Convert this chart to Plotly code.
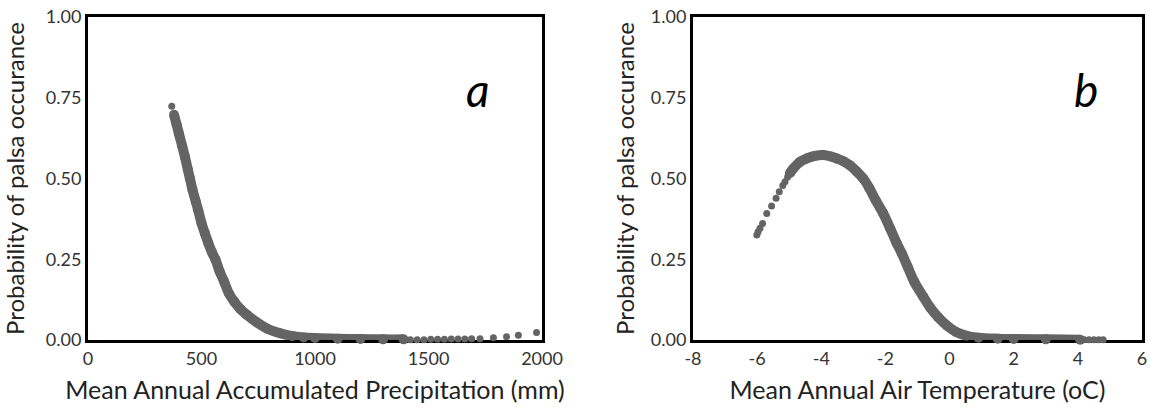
import plotly.graph_objects as go

# ---------------- Panel a: precipitation ----------------
precip_band_x = [379, 390, 400, 415, 427, 440, 449, 460, 475, 486, 500, 515, 530, 545, 562,
                 580, 600, 621, 645, 670, 700, 743, 790, 846, 900, 950, 1000, 1100, 1200,
                 1300, 1390]
precip_band_y = [0.697, 0.668, 0.640, 0.600, 0.567, 0.527, 0.500, 0.466, 0.428, 0.400, 0.362,
                 0.330, 0.300, 0.273, 0.248, 0.212, 0.180, 0.144, 0.118, 0.097, 0.078, 0.055,
                 0.035, 0.021, 0.012, 0.008, 0.006, 0.004, 0.003, 0.002, 0.002]
precip_dots_x = [369, 1420, 1450, 1480, 1510, 1540, 1570, 1600, 1630, 1660, 1690, 1727,
                 1786, 1844, 1896, 1976]
precip_dots_y = [0.724, 0.001, 0.001, 0.001, 0.002, 0.002, 0.002, 0.003, 0.003, 0.003,
                 0.004, 0.004, 0.007, 0.010, 0.015, 0.023]

# ---------------- Panel b: temperature ----------------
temp_band_x = [-4.98, -4.87, -4.66, -4.45, -4.2, -3.94, -3.7, -3.52, -3.3, -3.1, -2.9, -2.69,
               -2.5, -2.3, -2.07, -1.85, -1.65, -1.49, -1.3, -1.1, -0.82, -0.6, -0.35, -0.09,
               0.2, 0.53, 0.9, 1.5, 2.0, 3.0, 4.07]
temp_band_y = [0.516, 0.531, 0.552, 0.562, 0.570, 0.573, 0.568, 0.562, 0.553, 0.540, 0.522,
               0.500, 0.470, 0.432, 0.392, 0.345, 0.300, 0.268, 0.225, 0.180, 0.134, 0.100,
               0.070, 0.045, 0.025, 0.013, 0.007, 0.004, 0.003, 0.002, 0.001]
temp_dots_x = [-6.01, -5.97, -5.91, -5.83, -5.70, -5.55, -5.41, -5.31, -5.20, -5.13, -5.05,
               4.2, 4.35, 4.5, 4.65, 4.79]
temp_dots_y = [0.325, 0.335, 0.346, 0.361, 0.392, 0.415, 0.439, 0.459, 0.478, 0.490, 0.505,
               0.001, 0.001, 0.001, 0.001, 0.001]

y_ticks = [0, 0.25, 0.5, 0.75, 1.0]
y_ticklabels = ["0.00", "0.25", "0.50", "0.75", "1.00"]
precip_ticks = [0, 500, 1000, 1500, 2000]
temp_ticks = [-8, -6, -4, -2, 0, 2, 4, 6]
temp_ticklabels = ["-8", "-6", "-4", "-2", "0", "2", "4", "6"]

GREY = "#646464"
FONT = "Lato"

fig = go.Figure()

def add_panel(bx, by, dx, dy, xa, ya):
    fig.add_trace(go.Scatter(x=bx, y=by, mode="lines+markers", xaxis=xa, yaxis=ya,
                             line=dict(color=GREY, width=10, shape="spline"),
                             marker=dict(color=GREY, size=10),
                             cliponaxis=False, showlegend=False, hoverinfo="x+y"))
    fig.add_trace(go.Scatter(x=dx, y=dy, mode="markers", xaxis=xa, yaxis=ya,
                             marker=dict(color=GREY, size=7),
                             cliponaxis=False, showlegend=False, hoverinfo="x+y"))

add_panel(precip_band_x, precip_band_y, precip_dots_x, precip_dots_y, "x", "y")
add_panel(temp_band_x, temp_band_y, temp_dots_x, temp_dots_y, "x2", "y2")

W, H = 1150, 409
yd = [(H - 340) / H, (H - 17) / H]

axis_common = dict(showline=True, linecolor="black", linewidth=3, mirror=True,
                   showgrid=False, zeroline=False, ticks="", layer="below traces",
                   automargin=False,
                   tickfont=dict(family=FONT, size=18, color="#333333"))

TSTYLE = dict(family=FONT, size=25, color="#222222")
YSTYLE = dict(family=FONT, size=24, color="#222222")

fig.update_layout(
    width=W, height=H,
    margin=dict(l=0, r=0, t=0, b=0),
    paper_bgcolor="white", plot_bgcolor="white",
    font=dict(family=FONT, color="#222222"),
    xaxis=dict(domain=[88 / W, 542 / W], range=[0, 2000], tickvals=precip_ticks,
               title=dict(text="Mean Annual Accumulated Precipitation (mm)",
                          font=TSTYLE, standoff=14),
               anchor="y", **axis_common),
    yaxis=dict(domain=yd, range=[0, 1], tickvals=y_ticks, ticktext=y_ticklabels,
               title=dict(text="Probability of palsa occurance",
                          font=YSTYLE, standoff=17),
               anchor="x", **axis_common),
    xaxis2=dict(domain=[693 / W, 1142 / W], range=[-8, 6], tickvals=temp_ticks,
                ticktext=temp_ticklabels,
                title=dict(text="Mean Annual Air Temperature (oC)",
                           font=TSTYLE, standoff=14),
                anchor="y2", **axis_common),
    yaxis2=dict(domain=yd, range=[0, 1], tickvals=y_ticks, ticktext=y_ticklabels,
                title=dict(text="Probability of palsa occurance",
                           font=YSTYLE, standoff=10),
                anchor="x2", **axis_common),
    annotations=[
        dict(text="<i>a</i>", x=(492 - 88) / 454, y=(340 - 60) / 323, xref="x domain", yref="y domain",
             showarrow=False, font=dict(family=FONT, size=46, color="black")),
        dict(text="<i>b</i>", x=(1100 - 693) / 449, y=(340 - 60) / 323, xref="x2 domain", yref="y2 domain",
             showarrow=False, font=dict(family=FONT, size=46, color="black")),
    ],
)

fig.write_html("out.html", config={"displayModeBar": False},
               post_script="document.body.style.margin='0';")
